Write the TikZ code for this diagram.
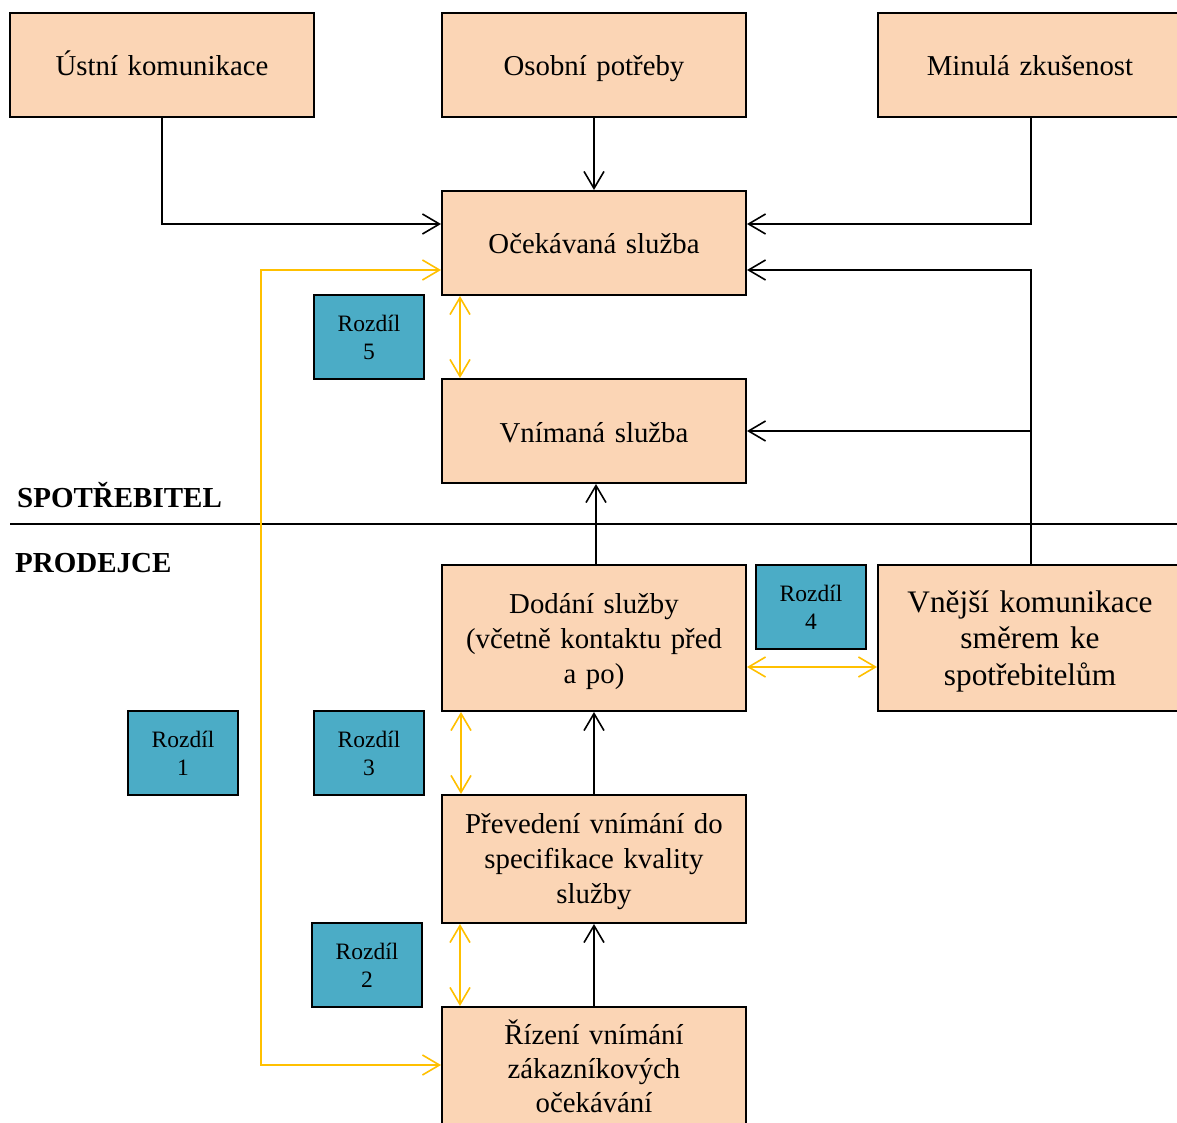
\documentclass[tikz,border=0pt]{standalone}
\usepackage{fontspec}
\setmainfont{Liberation Serif}
\usetikzlibrary{arrows.meta}

\definecolor{peach}{HTML}{FBD5B5}
\definecolor{gapteal}{HTML}{4BACC6}
\definecolor{gapgold}{HTML}{FFC000}

\tikzset{
  stage/.style={draw=black, line width=2pt, fill=peach, minimum width=304pt,
    minimum height=104pt, inner sep=4pt, align=center, text width=290pt,
    text height=28pt, text depth=6pt,
    font=\fontsize{28.8}{35}\selectfont},
  % first baseline placed about 25pt above the box centre
  threeline/.style={text height=25pt, text depth=75pt},
  gapbox/.style={draw=black, line width=2pt, fill=gapteal, minimum width=110pt,
    minimum height=84pt, inner sep=2pt, align=center, text width=100pt,
    text height=20pt, text depth=32pt,
    font=\fontsize{23.5}{28}\selectfont},
  flow/.style={draw=black, line width=1.6pt,
    -{Straight Barb[length=17pt,width=20pt]}},
  gap/.style={draw=gapgold, line width=1.6pt,
    {Straight Barb[length=17pt,width=20pt]}-{Straight Barb[length=17pt,width=20pt]}},
  sidelabel/.style={anchor=west, inner sep=0pt, font=\fontsize{29}{34}\selectfont\bfseries}
}

\begin{document}
\begin{tikzpicture}[x=1pt, y=-1pt]
\useasboundingbox (0,0) rectangle (1177,1123);
\clip (0,0) rectangle (1177,1123);
\fill[white] (0,0) rectangle (1177,1123);

% consumer / provider boundary
\coordinate (sepL) at (10,524);
\coordinate (sepR) at (1177,524);
\draw[line width=2pt] (sepL) -- (sepR);
\node[sidelabel] (spotr) at (17,495) {SPOTŘEBITEL};
\node[sidelabel] (prod) at (15,563) {PRODEJCE};

% influences on the expected service
\node[stage] (ustni)  at (162,65)  {Ústní komunikace};
\node[stage] (osobni) at (594,65)  {Osobní potřeby};
\node[stage] (minula) at (1030,65) {Minulá zkušenost};

% consumer side
\node[stage] (ocek) at (594,243) {Očekávaná služba};
\node[stage] (vnim) at (594,431) {Vnímaná služba};

% provider side
\node[stage, threeline, minimum height=146pt] (dodani) at (594,638)
  {Dodání služby\\(včetně kontaktu před\\a po)};
\node[stage, threeline, text depth=77pt, minimum height=146pt,
  font=\fontsize{31.3}{36.5}\selectfont] (vnejsi) at (1030,638)
  {Vnější komunikace\\směrem ke\\spotřebitelům};
\node[stage, threeline, text depth=77pt, minimum height=128pt] (preved) at (594,859)
  {Převedení vnímání do\\specifikace kvality\\služby};
\node[stage, threeline, text depth=79pt, minimum height=128pt,
  font=\fontsize{28.8}{34}\selectfont] (rizeni) at (594,1071)
  {Řízení vnímání\\zákazníkových\\očekávání};

% gaps
\node[gapbox] (g5) at (369,337) {Rozdíl\\5};
\node[gapbox] (g4) at (811,607) {Rozdíl\\4};
\node[gapbox] (g1) at (183,753) {Rozdíl\\1};
\node[gapbox] (g3) at (369,753) {Rozdíl\\3};
\node[gapbox] (g2) at (367,965) {Rozdíl\\2};

% black flows
\draw[flow] (ustni.south) |- ([yshift=19pt]ocek.west);
\draw[flow] (osobni.south) -- (ocek.north);
\draw[flow] ([xshift=1pt]minula.south) |- ([yshift=19pt]ocek.east);
\draw[flow] ([xshift=1pt]vnejsi.north) |- ([yshift=-27pt]ocek.east);
\draw[flow] ([xshift=1pt]vnejsi.north |- vnim.east) -- (vnim.east);
\draw[flow] ([xshift=2pt]dodani.north) -- ([xshift=2pt]vnim.south);
\draw[flow] (preved.north) -- (dodani.south);
\draw[flow] (rizeni.north) -- (preved.south);

% gold gap links
\draw[gap] ([xshift=19pt]ocek.south west) -- ([xshift=19pt]vnim.north west);
\draw[gap] ([xshift=20pt]dodani.south west) -- ([xshift=20pt]preved.north west);
\draw[gap] ([xshift=19pt]preved.south west) -- ([xshift=19pt]rizeni.north west);
\draw[gap] ([yshift=-29pt]dodani.east) -- ([yshift=-29pt]vnejsi.west);
\coordinate (loopTop) at (261,270);
\coordinate (loopBot) at (261,1065);
\draw[gap] ([yshift=-27pt]ocek.west) -- (loopTop) -- (loopBot) -- ([yshift=6pt]rizeni.west);
\end{tikzpicture}
\end{document}
